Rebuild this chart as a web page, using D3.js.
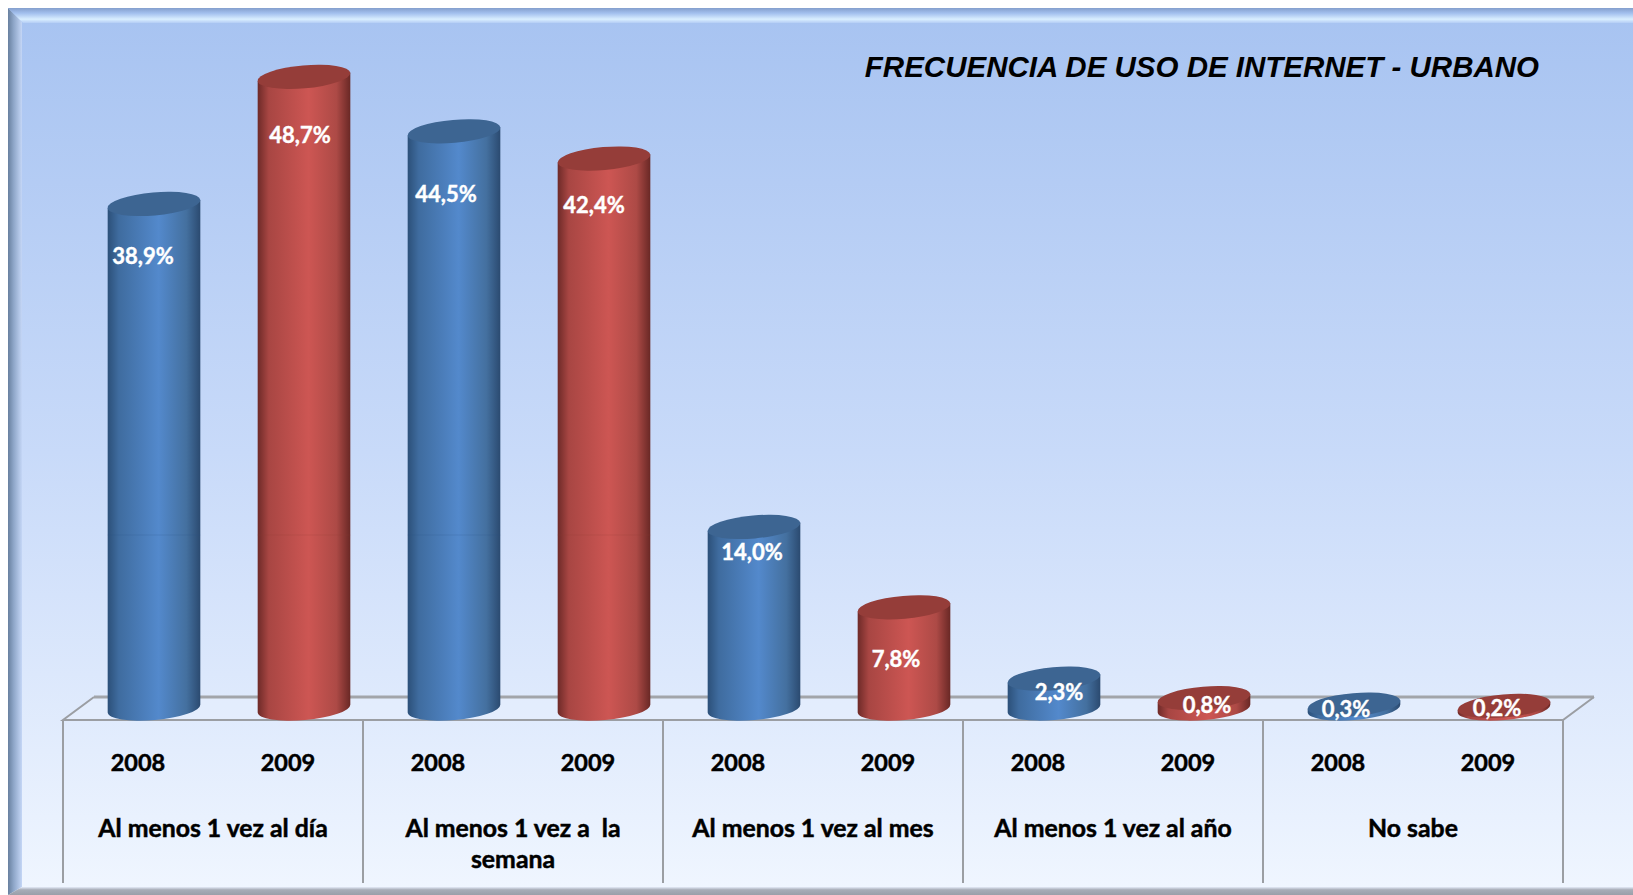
<!DOCTYPE html>
<html>
<head>
<meta charset="utf-8">
<title>Frecuencia de uso de Internet - Urbano</title>
<script src="https://d3js.org/d3.v7.min.js"></script>
<style>
  html, body { margin: 0; padding: 0; background: #fff; overflow: hidden; }
  svg { display: block; }
  text { font-family: Lato, "Open Sans", sans-serif; font-weight: 700; white-space: pre; }
</style>
</head>
<body>
<div id="chart"></div>
<script>
// data
var categories = ["Al menos 1 vez al día", "Al menos 1 vez a  la semana", "Al menos 1 vez al mes", "Al menos 1 vez al año", "No sabe"];
var years = ["2008", "2009"];
var values2008 = [38.9, 44.5, 14.0, 2.3, 0.3];
var values2009 = [48.7, 42.4, 7.8, 0.8, 0.2];
var chartTitle = "FRECUENCIA DE USO DE INTERNET - URBANO";

var width = 1633, height = 895;
var svg = d3.select("#chart").append("svg").attr("width", width).attr("height", height);
var defs = svg.append("defs");

// helper for the gradients
function gradient(id, horizontal, stops) {
    var g = defs.append("linearGradient").attr("id", id)
        .attr("x1", 0).attr("y1", 0)
        .attr("x2", horizontal ? 1 : 0).attr("y2", horizontal ? 0 : 1);
    stops.forEach(function(s) {
        g.append("stop").attr("offset", s[0]).attr("stop-color", s[1]);
    });
}
gradient("bg", false, [[0, "#a7c3f1"], [0.5, "#c8daf9"], [1, "#f0f6ff"]]);
gradient("bevelTop", false, [[0, "#849fcd"], [0.35, "#a3c0ee"], [0.75, "#d9eeff"], [1, "#b4cdf5"]]);
gradient("bevelLeft", true, [[0, "#68809f"], [0.4, "#8ea6c8"], [1, "#c4d6f6"]]);
gradient("bevelBottom", false, [[0, "#e4ebf8"], [0.35, "#a8adb8"], [1, "#9a9fa9"]]);
gradient("blueBody", true, [[0, "#2c5079"], [0.12, "#3f6c9f"], [0.55, "#5389cc"], [0.85, "#44709f"], [1, "#2b4a70"]]);
gradient("redBody", true, [[0, "#6e2a28"], [0.12, "#a84643"], [0.55, "#cd5653"], [0.85, "#ad4a46"], [1, "#692825"]]);

// panel and bevel
svg.append("rect").attr("x", 8).attr("y", 8).attr("width", width - 8).attr("height", height - 8).attr("fill", "url(#bg)");
svg.append("path").attr("d", "M8,8L22,22V887L8,895Z").attr("fill", "url(#bevelLeft)");
svg.append("path").attr("d", "M8,8H1633V23H23Z").attr("fill", "url(#bevelTop)");
svg.append("path").attr("d", "M22,887H1633V895H8Z").attr("fill", "url(#bevelBottom)");

// scales
var floorFront = 720, floorBack = 697, axisBottomY = 883, depth = 31;
var x0 = d3.scaleBand().domain(categories).range([63, 1563]);
var x1 = d3.scaleBand().domain(years).range([0, x0.bandwidth()]);
var y = d3.scaleLinear().domain([0, 50]).range([708.5, 60]);

var barWidth = 93, capRy = 11.5, tilt = 5;
var tiltDx = barWidth / 2 * Math.cos(tilt * Math.PI / 180);
var tiltDy = barWidth / 2 * Math.sin(tilt * Math.PI / 180);

var bars = [];
categories.forEach(function(c, i) {
    bars.push({ category: c, year: "2008", value: values2008[i], index: i * 2 });
    bars.push({ category: c, year: "2009", value: values2009[i], index: i * 2 + 1 });
});

// floor
var grey = "#9b9ea3";
var left = x0.range()[0], right = x0.range()[1];
svg.append("path")
    .attr("d", "M" + left + "," + floorFront + "L" + (left + depth) + "," + floorBack + "H" + (right + depth) + "L" + right + "," + floorFront + "Z")
    .attr("fill", "#e6eefd").attr("fill-opacity", 0.6).attr("stroke", "none");
svg.append("line").attr("x1", left + depth).attr("x2", right + depth).attr("y1", floorBack).attr("y2", floorBack)
    .attr("stroke", "#a2a5aa").attr("stroke-width", 3);
svg.append("path").attr("fill", "none").attr("stroke", grey).attr("stroke-width", 2)
    .attr("d", "M" + (left + depth) + "," + floorBack + "L" + left + "," + floorFront + "H" + right + "L" + (right + depth) + "," + floorBack);
svg.selectAll(".divider").data(categories.concat(["end"])).enter().append("line")
    .attr("class", "divider")
    .attr("x1", function(d) { return d === "end" ? right : x0(d); })
    .attr("x2", function(d) { return d === "end" ? right : x0(d); })
    .attr("y1", floorFront).attr("y2", axisBottomY)
    .attr("stroke", grey).attr("stroke-width", 2);

// cylinders
function cx(d) { return x0(d.category) + x1(d.year) + x1.bandwidth() / 2 + 16; }
function ell() { return " " + (barWidth / 2) + " " + capRy + " " + (-tilt) + " 0 "; }

function bodyPath(d) {
    var c = cx(d), top = y(d.value), base = y(0);
    return "M" + (c - tiltDx) + "," + (top + tiltDy) +
        "L" + (c - tiltDx) + "," + (base + tiltDy) +
        "A" + ell() + "0 " + (c + tiltDx) + "," + (base - tiltDy) +
        "L" + (c + tiltDx) + "," + (top - tiltDy) + "Z";
}

var bar = svg.selectAll(".bar").data(bars).enter().append("g").attr("class", "bar");
bar.append("path")
    .attr("d", bodyPath)
    .attr("fill", function(d) { return d.year === "2008" ? "url(#blueBody)" : "url(#redBody)"; });
bar.append("ellipse")
    .attr("cx", 0).attr("cy", 0)
    .attr("rx", barWidth / 2).attr("ry", capRy)
    .attr("transform", function(d) { return "translate(" + cx(d) + "," + y(d.value) + ") rotate(" + (-tilt) + ")"; })
    .attr("fill", function(d) { return d.year === "2008" ? "#3d6592" : "#953d39"; });

// faint seam across the tall bars, it is in the source image
var seamY = 535;
bar.filter(function(d) { return y(d.value) < seamY - 15; }).append("line")
    .attr("x1", function(d) { return cx(d) - tiltDx; })
    .attr("x2", function(d) { return cx(d) + tiltDx; })
    .attr("y1", seamY).attr("y2", seamY)
    .attr("stroke", function(d) { return d.year === "2008" ? "#2f5580" : "#8f3a37"; })
    .attr("stroke-opacity", 0.2);

// value labels, hand placed in the original so they get their own nudges
var labelDx = [-11, -4, -8, -10, -2, -8, 5, 3, -8, -7];
var labelDy = [60, 66, 71, 54, 33, 60, 21, 15, 12, 10];
bar.append("text")
    .attr("x", function(d) { return cx(d) + labelDx[d.index]; })
    .attr("y", function(d) { return y(d.value) + labelDy[d.index]; })
    .attr("text-anchor", "middle")
    .attr("fill", "#fff")
    .attr("stroke", "#fff").attr("stroke-width", 0.4)
    .attr("font-size", 22)
    .text(function(d) { return d3.format(".1f")(d.value).replace(".", ",") + "%"; });

// year axis, one per category
categories.forEach(function(c) {
    var g = svg.append("g").attr("transform", "translate(" + x0(c) + "," + floorFront + ")")
        .call(d3.axisBottom(x1).tickSize(0));
    g.select(".domain").remove();
    g.selectAll("text")
        .attr("y", 51).attr("dy", 0)
        .attr("fill", "#000").attr("stroke", "#000").attr("stroke-width", 0.5)
        .attr("font-size", 23.5)
        .style("font-family", "Lato").style("font-weight", 700);
});

// category axis
var catAxis = svg.append("g").attr("transform", "translate(0," + floorFront + ")")
    .call(d3.axisBottom(x0).tickSize(0));
catAxis.select(".domain").remove();
catAxis.selectAll("text")
    .attr("y", 117).attr("dy", 0)
    .attr("fill", "#000").attr("stroke", "#000").attr("stroke-width", 0.5)
    .attr("font-size", 24.8)
    .style("font-family", "Lato").style("font-weight", 700)
    .each(function(d) {
        // wrap the last word when the label is wider than its band
        var t = d3.select(this);
        if (this.getComputedTextLength() > x0.bandwidth() - 30) {
            var cut = d.lastIndexOf(" ");
            t.text(null);
            t.append("tspan").attr("x", 0).attr("y", 117).text(d.slice(0, cut));
            t.append("tspan").attr("x", 0).attr("y", 148).text(d.slice(cut + 1));
        }
    });

// title
svg.append("text")
    .attr("x", 1539).attr("y", 77)
    .attr("text-anchor", "end")
    .attr("fill", "#000")
    .attr("font-size", 29.5)
    .style("font-family", "'Liberation Sans', Arial, sans-serif")
    .style("font-style", "italic")
    .text(chartTitle);
</script>
</body>
</html>
